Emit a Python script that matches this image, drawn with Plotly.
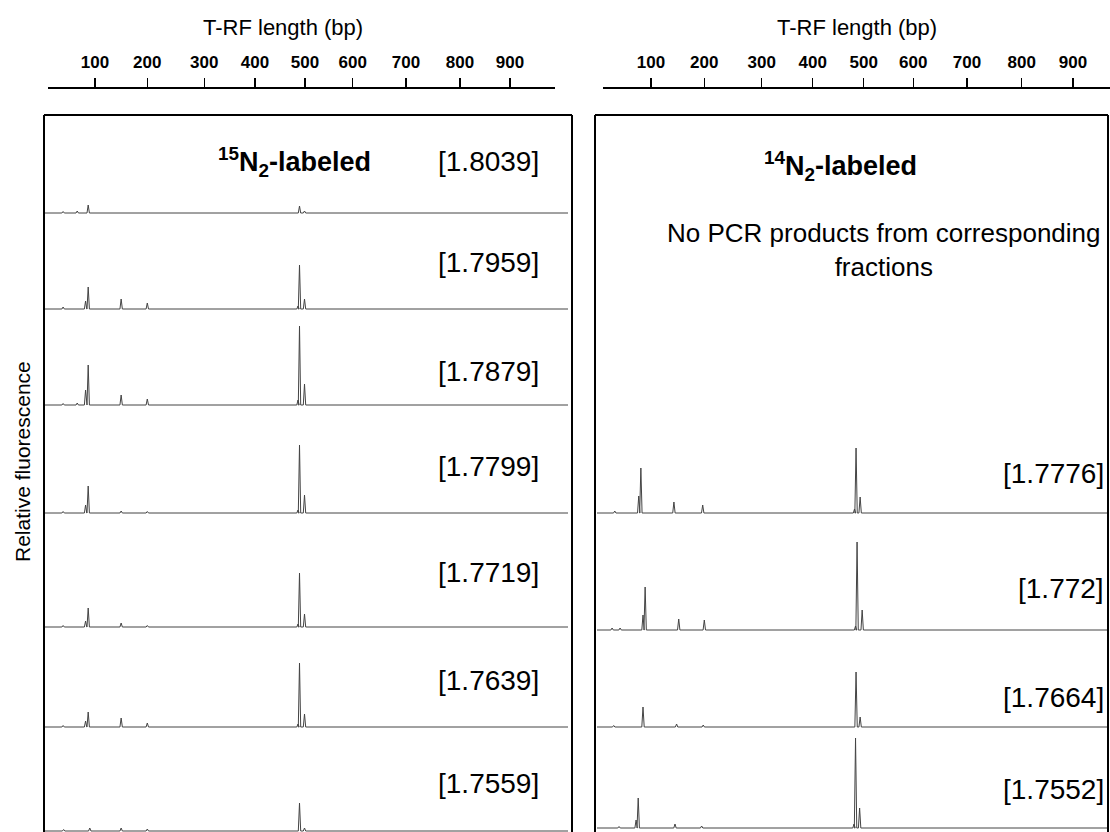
import numpy as np
import plotly.graph_objects as go

W, H = 1110, 832
FONT = "Liberation Sans, Arial, sans-serif"

# ---------------- data ----------------
TICK_BP = [100, 200, 300, 400, 500, 600, 700, 800, 900]
TICK_TEXT = [str(v) for v in TICK_BP]
# calibration of the (non-linear) T-RF length scale: migration position of each tick
TICK_POS_L = [47, 99.3, 156.3, 207, 257, 304.7, 358, 412, 462]
TICK_POS_R = [48, 101.3, 158.7, 209.7, 260.7, 310.3, 364, 418.7, 470]

LEFT_LABELS = ["[1.8039]", "[1.7959]", "[1.7879]", "[1.7799]", "[1.7719]", "[1.7639]", "[1.7559]"]
LEFT_PEAK_BP = [
    [39, 66, 87, 489, 499],
    [39, 82, 87, 150, 200, 486, 489, 499],
    [39, 66, 82, 87, 150, 200, 486, 489, 499],
    [39, 82, 87, 150, 200, 486, 489, 499],
    [39, 82, 87, 150, 200, 486, 489, 499],
    [39, 82, 87, 150, 200, 486, 489, 499],
    [40, 90, 150, 200, 489, 499],
]
LEFT_PEAK_H = [
    [1.5, 2, 8, 7, 2],
    [2, 8, 22, 10, 6, 3, 44, 10],
    [1.5, 2, 15, 40, 10, 6, 5, 79, 21],
    [1.5, 8, 27, 2, 1.5, 3, 68, 18],
    [1.5, 6, 19, 4, 1.5, 3, 54, 13],
    [1.5, 6, 15, 9, 4, 3, 64, 13],
    [1.5, 3, 3, 2, 28, 3],
]

RIGHT_LABELS = ["[1.7776]", "[1.772]", "[1.7664]", "[1.7552]"]
RIGHT_PEAK_BP = [
    [32, 77, 81, 143, 197, 482, 485, 493],
    [27, 42, 85, 89, 152, 200, 484, 487, 497],
    [30, 85, 148, 198, 485, 493],
    [40, 72, 76, 145, 195, 481, 484, 492],
]
RIGHT_PEAK_H = [
    [2, 17, 45, 11, 8, 4, 65, 16],
    [2, 2, 15, 43, 11, 10, 4, 88, 20],
    [1.5, 20, 3, 2, 55, 10],
    [1.5, 8, 30, 4, 2, 4, 90, 20],
]

# ---------------- layout geometry (pixels) ----------------
AXIS_Y = 87
L_AX = (48, 555)
R_AX = (603, 1110)
L_ROW = (45, 568)
R_ROW = (597, 1107)
LEFT_BASE = [213, 309, 405, 513, 627, 727, 831]
LEFT_LAB_Y = [161, 262, 371, 466, 572, 680, 783]
RIGHT_BASE = [513, 630, 727, 828]
RIGHT_LAB_Y = [473, 588, 697, 789]
ROW_H = 100
PEAK_HW = 1.2


def px(x):
    return x / W


def py(y):
    return 1 - y / H


def to_pos(bp, tickpos):
    kb = [0] + TICK_BP + [1000]
    kp = [tickpos[0] - (tickpos[1] - tickpos[0])] + list(tickpos) + \
         [tickpos[-1] + (tickpos[-1] - tickpos[-2])]
    return np.interp(bp, kb, kp)


def trace_xy(bps, hs, tickpos, xmin, xmax):
    pos = to_pos(np.array(bps, float), tickpos)
    order = np.argsort(pos)
    xs, ys = [xmin], [0]
    for i in order:
        p, h = pos[i], hs[i]
        xs += [p - PEAK_HW, p, p + PEAK_HW]
        ys += [0, h, 0]
    xs.append(xmax)
    ys.append(0)
    return xs, ys


fig = go.Figure()
layout = dict(
    width=W, height=H, margin=dict(l=0, r=0, t=0, b=0),
    paper_bgcolor="white", plot_bgcolor="rgba(0,0,0,0)", showlegend=False,
)

# top T-RF axes (two panels), anchored on dummy hidden y axes
for k, (ax, tp) in enumerate([(L_AX, TICK_POS_L), (R_AX, TICK_POS_R)]):
    n = "" if k == 0 else "2"
    layout["xaxis" + n] = dict(
        domain=[px(ax[0]), px(ax[1])], range=[0, ax[1] - ax[0]],
        side="top", anchor="free", position=py(AXIS_Y),
        showline=True, linecolor="black", linewidth=1.5,
        ticks="outside", ticklen=9, tickwidth=1.5, tickcolor="black",
        tickvals=tp, ticktext=TICK_TEXT, ticklabelstandoff=3,
        tickfont=dict(family=FONT, size=17, color="black", weight="bold"),
        showgrid=False, zeroline=False, fixedrange=True,
    )
    layout["yaxis" + n] = dict(domain=[py(100), py(95)], visible=False, range=[0, 1])
    fig.add_trace(go.Scatter(x=[None], y=[None], xaxis="x" + n, yaxis="y" + n,
                             hoverinfo="skip"))

idx = 3
panels = [
    (LEFT_PEAK_BP, LEFT_PEAK_H, LEFT_BASE, TICK_POS_L, L_AX, L_ROW),
    (RIGHT_PEAK_BP, RIGHT_PEAK_H, RIGHT_BASE, TICK_POS_R, R_AX, R_ROW),
]
for bps_all, hs_all, bases, tp, ax, row in panels:
    xmin = row[0] - ax[0]
    xmax = row[1] - ax[0]
    for bps, hs, base in zip(bps_all, hs_all, bases):
        n = str(idx)
        lo_px = max(0, H - base - 3)
        hi_px = min(H, H - base + ROW_H)
        layout["xaxis" + n] = dict(domain=[px(row[0]), px(row[1])], range=[xmin, xmax],
                                   visible=False, anchor="y" + n, fixedrange=True)
        layout["yaxis" + n] = dict(domain=[lo_px / H, hi_px / H],
                                   range=[lo_px - (H - base), hi_px - (H - base)],
                                   visible=False, anchor="x" + n, fixedrange=True)
        xs, ys = trace_xy(bps, hs, tp, xmin, xmax)
        fig.add_trace(go.Scatter(x=xs, y=ys, mode="lines", xaxis="x" + n, yaxis="y" + n,
                                 line=dict(color="#444444", width=1), hoverinfo="skip",
                                 cliponaxis=False))
        idx += 1

# panel frames
shapes = []
for x0, x1 in [(44, 572), (595, 1108)]:
    for (a, b, c, d) in [(x0, 115, x1, 115), (x0, 115, x0, 840), (x1, 115, x1, 840)]:
        shapes.append(dict(type="line", xref="paper", yref="paper",
                           x0=px(a), y0=py(b), x1=px(c), y1=py(d),
                           line=dict(color="black", width=2)))
layout["shapes"] = shapes

ann = []


def add_text(text, x, y, size, xanchor="center", bold=False, angle=0):
    ann.append(dict(text=("<b>%s</b>" % text) if bold else text,
                    x=px(x), y=py(y), xref="paper", yref="paper",
                    xanchor=xanchor, yanchor="middle", showarrow=False,
                    textangle=angle,
                    font=dict(family=FONT, size=size, color="black")))


add_text("T-RF length (bp)", 283, 28, 22)
add_text("T-RF length (bp)", 857, 28, 22)
add_text("<sup>15</sup>N<sub>2</sub>-labeled", 294, 162, 27, bold=True)
add_text("<sup>14</sup>N<sub>2</sub>-labeled", 840, 166, 27, bold=True)
add_text("No PCR products from corresponding<br>fractions", 884, 250, 26)
add_text("Relative fluorescence", 22, 462, 21, angle=-90)
for lab, y in zip(LEFT_LABELS, LEFT_LAB_Y):
    add_text(lab, 541, y, 28, xanchor="right")
for lab, y in zip(RIGHT_LABELS, RIGHT_LAB_Y):
    add_text(lab, 1106, y, 28, xanchor="right")
layout["annotations"] = ann

fig.update_layout(**layout)
fig.write_html("out.html",
               config={"displayModeBar": False, "staticPlot": True},
               post_script="document.body.style.margin='0px';"
                           "document.body.style.overflow='hidden';")
